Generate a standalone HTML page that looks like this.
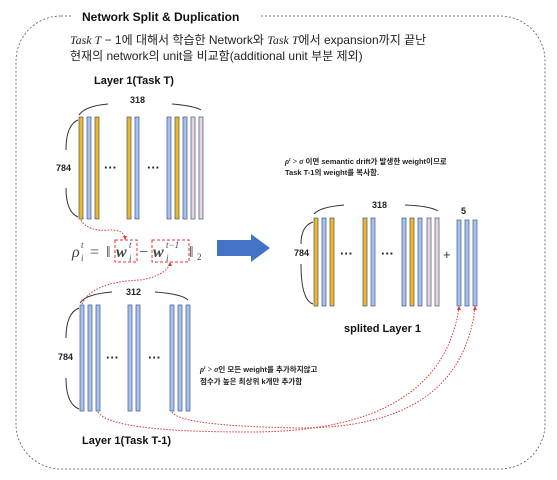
<!DOCTYPE html>
<html><head><meta charset="utf-8"><style>
body{margin:0;background:#fff;}
svg{display:block;font-family:"Liberation Sans","Noto Sans CJK KR",sans-serif;}
</style></head><body>
<svg width="557" height="480" viewBox="0 0 557 480" xmlns="http://www.w3.org/2000/svg">
<rect x="16" y="16" width="529" height="453" rx="45" fill="none" stroke="#555" stroke-width="0.8" stroke-dasharray="2,2"/>
<rect x="72" y="8" width="188" height="16" fill="#fff"/>
<text x="82" y="21" font-size="12" font-weight="bold" fill="#111">Network Split &amp; Duplication</text>
<text x="70" y="44" font-size="12" fill="#222"><tspan font-style="italic" font-family="Liberation Serif">Task T</tspan> − 1에 대해서 학습한 Network와 <tspan font-style="italic" font-family="Liberation Serif">Task T</tspan>에서 expansion까지 끝난</text>
<text x="70" y="60" font-size="12" fill="#222">현재의 network의 unit을 비교함(additional unit 부분 제외)</text>
<text x="94" y="84" font-size="11" font-weight="bold" fill="#111">Layer 1(Task T)</text>

<g stroke="#3a5a8a" stroke-width="0.7">
<rect x="79" y="117" width="4" height="102" fill="#f2b71c"/>
<rect x="87" y="117" width="4" height="102" fill="#a9c1ea"/>
<rect x="95" y="117" width="4" height="102" fill="#f2b71c"/>
<rect x="127" y="117" width="4" height="102" fill="#f2b71c"/>
<rect x="135" y="117" width="4" height="102" fill="#a9c1ea"/>
<rect x="167" y="117" width="4" height="102" fill="#a9c1ea"/>
<rect x="175" y="117" width="4" height="102" fill="#f2b71c"/>
<rect x="183" y="117" width="4" height="102" fill="#a9c1ea"/>
<rect x="191" y="117" width="4" height="102" fill="#ecd3d8"/>
<rect x="199" y="117" width="4" height="102" fill="#ecd3d8"/>
<rect x="80" y="305" width="4" height="106" fill="#a9c1ea"/>
<rect x="88" y="305" width="4" height="106" fill="#a9c1ea"/>
<rect x="96" y="305" width="4" height="106" fill="#a9c1ea"/>
<rect x="128" y="305" width="4" height="106" fill="#a9c1ea"/>
<rect x="136" y="305" width="4" height="106" fill="#a9c1ea"/>
<rect x="170" y="305" width="4" height="106" fill="#a9c1ea"/>
<rect x="178" y="305" width="4" height="106" fill="#a9c1ea"/>
<rect x="186" y="305" width="4" height="106" fill="#a9c1ea"/>
<rect x="314" y="218" width="4" height="88" fill="#f2b71c"/>
<rect x="322" y="218" width="4" height="88" fill="#a9c1ea"/>
<rect x="330" y="218" width="4" height="88" fill="#f2b71c"/>
<rect x="363" y="218" width="4" height="88" fill="#f2b71c"/>
<rect x="371" y="218" width="4" height="88" fill="#a9c1ea"/>
<rect x="402" y="218" width="4" height="88" fill="#a9c1ea"/>
<rect x="410" y="218" width="4" height="88" fill="#f2b71c"/>
<rect x="418" y="218" width="4" height="88" fill="#a9c1ea"/>
<rect x="427" y="218" width="4" height="88" fill="#ecd3d8"/>
<rect x="435" y="218" width="4" height="88" fill="#ecd3d8"/>
<rect x="457" y="220" width="4" height="86" fill="#a9c1ea"/>
<rect x="465" y="220" width="4" height="86" fill="#a9c1ea"/>
<rect x="473" y="220" width="4" height="86" fill="#a9c1ea"/>
</g>

<g fill="none" stroke="#333" stroke-width="1">
<path d="M78 120 Q66 125 66 150"/><path d="M66 188 Q66 212 78 217"/>
<path d="M79 115 Q85 106 108 104"/><path d="M172 104 Q195 106 201 110"/>
<path d="M79 308 Q66 313 66 338"/><path d="M66 378 Q66 404 79 409"/>
<path d="M80 303 Q86 294 112 292"/><path d="M155 292 Q182 294 188 300"/>
<path d="M313 222 Q301 226 301 244"/><path d="M301 264 Q301 300 313 304"/>
<path d="M314 214 Q320 207 344 205"/><path d="M405 205 Q430 206 438 211"/>
</g>
<g font-size="9" font-weight="bold" fill="#222">
<text x="56" y="171">784</text><text x="130" y="103">318</text>
<text x="58" y="360">784</text><text x="126" y="295">312</text>
<text x="294" y="256">784</text><text x="372" y="208">318</text><text x="461" y="214">5</text>
</g>
<g font-size="13" fill="#222" font-weight="bold">
<text x="104" y="172">···</text><text x="147" y="172">···</text>
<text x="106" y="362">···</text><text x="148" y="362">···</text>
<text x="340" y="258">···</text><text x="381" y="258">···</text>
</g>
<text x="443" y="259" font-size="13" fill="#333">+</text>
<text x="344" y="332" font-size="11" font-weight="bold" fill="#111">splited Layer 1</text>
<text x="82" y="444" font-size="11" font-weight="bold" fill="#111">Layer 1(Task T-1)</text>

<g font-size="7.5" font-weight="bold" fill="#222">
<text x="285" y="164"><tspan font-style="italic" font-family="Liberation Serif" font-size="8">ρ<tspan font-size="5" dy="-3">t</tspan><tspan dy="3"> &gt; σ</tspan></tspan> 이면 semantic drift가 발생한 weight이므로</text>
<text x="285" y="175">Task T-1의 weight를 복사함.</text>
<text x="200" y="372"><tspan font-style="italic" font-family="Liberation Serif" font-size="8">ρ<tspan font-size="5" dy="-3">t</tspan><tspan dy="3"> &gt; σ</tspan></tspan>인 모든 weight를 추가하지않고</text>
<text x="200" y="384">점수가 높은 최상위 k개만 추가함</text>
</g>

<g font-family="Liberation Serif" fill="#444">
<text x="72" y="257" font-size="16" font-style="italic">ρ</text>
<text x="81" y="248" font-size="9" font-style="italic">t</text>
<text x="81" y="261" font-size="9" font-style="italic">i</text>
<text x="90" y="257" font-size="16">=</text>
<text x="106" y="257" font-size="16">‖</text>
<text x="116" y="257" font-size="16" font-weight="bold" font-style="italic">w</text>
<text x="129" y="248" font-size="9" font-style="italic">t</text>
<text x="129" y="261" font-size="9" font-style="italic">i</text>
<text x="139" y="257" font-size="16">−</text>
<text x="153" y="257" font-size="16" font-weight="bold" font-style="italic">w</text>
<text x="166" y="248" font-size="9" font-style="italic">t−1</text>
<text x="166" y="261" font-size="9" font-style="italic">i</text>
<text x="189" y="257" font-size="16">‖</text>
<text x="197" y="260" font-size="9">2</text>
</g>
<g fill="none" stroke="#e83030" stroke-width="1" stroke-dasharray="3,2">
<rect x="115" y="240" width="22" height="22"/><rect x="152" y="240" width="37" height="22"/>
</g>
<path d="M217 240 H251 V234 L270 248 L251 262 V256 H217 Z" fill="#4472c4"/>

<g fill="none" stroke="#e83030" stroke-width="1" stroke-dasharray="1.5,1.5">
<path d="M81 220 Q88 232 110 230 Q124 230 125 238"/>
<path d="M82 304 Q92 282 140 280 Q165 276 170 264"/>
<path d="M98 412 Q110 432 250 432 Q440 432 459 308"/>
<path d="M172 412 Q180 426 300 428 Q460 428 475 308"/>
</g>
<g fill="#e83030">
<path d="M123 236 L127 236 L125 240 Z"/><path d="M168 266 L172 266 L170 262 Z"/>
<path d="M457 310 L461 310 L459 306 Z"/><path d="M473 310 L477 310 L475 306 Z"/>
</g>
</svg>
</body></html>
